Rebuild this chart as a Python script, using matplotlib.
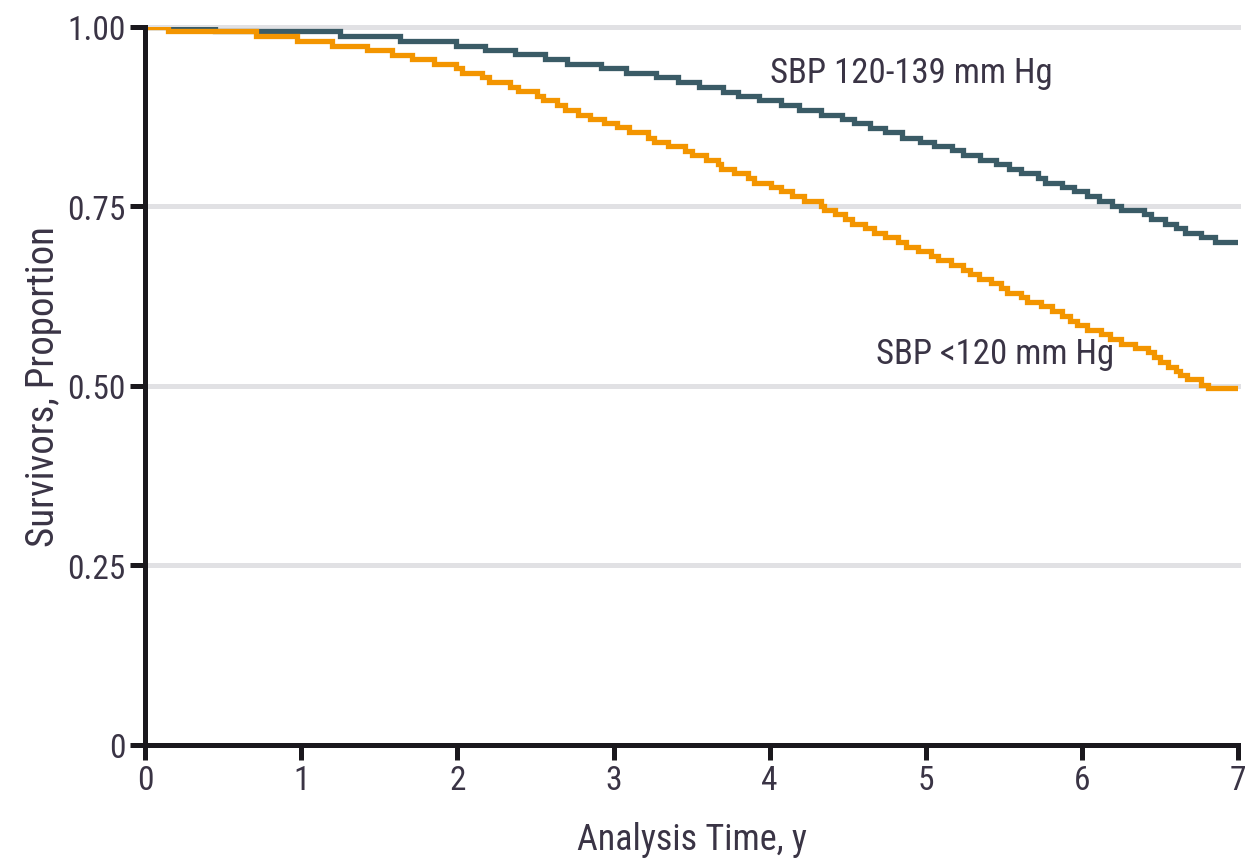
import matplotlib
matplotlib.use("Agg")
import matplotlib.pyplot as plt
from matplotlib import font_manager

# Kaplan-Meier step data (time in years, survival proportion)
t_120_139 = [0, 0.45, 1.25, 1.63, 1.99, 2.18, 2.37, 2.56, 2.70, 2.92, 3.08, 3.27,
             3.41, 3.55, 3.70, 3.80, 3.93, 4.07, 4.19, 4.33, 4.46, 4.54, 4.64,
             4.74, 4.85, 4.96, 5.05, 5.17, 5.24, 5.35, 5.45, 5.53, 5.61, 5.72,
             5.76, 5.87, 5.95, 6.03, 6.11, 6.19, 6.25, 6.40, 6.44, 6.53, 6.60,
             6.66, 6.76, 6.85, 7.0]
s_120_139 = [1.000, 0.994, 0.987, 0.980, 0.974, 0.968, 0.962, 0.955, 0.949, 0.943,
             0.936, 0.930, 0.923, 0.917, 0.910, 0.904, 0.898, 0.891, 0.885, 0.878,
             0.872, 0.866, 0.859, 0.853, 0.846, 0.840, 0.834, 0.828, 0.821, 0.815,
             0.809, 0.802, 0.796, 0.790, 0.783, 0.777, 0.771, 0.764, 0.758, 0.751,
             0.745, 0.739, 0.732, 0.726, 0.720, 0.713, 0.707, 0.700, 0.700]

t_lt120 = [0, 0.15, 0.71, 0.97, 1.20, 1.42, 1.58, 1.71, 1.85, 1.99, 2.03, 2.16,
           2.20, 2.34, 2.39, 2.51, 2.55, 2.64, 2.69, 2.77, 2.85, 2.94, 3.02, 3.10,
           3.22, 3.26, 3.35, 3.46, 3.50, 3.59, 3.67, 3.69, 3.77, 3.86, 3.90, 4.01,
           4.07, 4.14, 4.22, 4.33, 4.35, 4.42, 4.48, 4.53, 4.61, 4.67, 4.74, 4.82,
           4.87, 4.95, 5.03, 5.08, 5.16, 5.24, 5.28, 5.34, 5.42, 5.48, 5.52, 5.61,
           5.65, 5.74, 5.81, 5.87, 5.92, 5.97, 6.03, 6.12, 6.18, 6.25, 6.34, 6.42,
           6.46, 6.50, 6.55, 6.60, 6.63, 6.67, 6.76, 6.81, 7.0]
s_lt120 = [1.000, 0.994, 0.987, 0.980, 0.974, 0.968, 0.961, 0.955, 0.949, 0.943,
           0.936, 0.930, 0.923, 0.917, 0.911, 0.904, 0.898, 0.891, 0.885, 0.878,
           0.872, 0.866, 0.860, 0.853, 0.846, 0.840, 0.834, 0.827, 0.821, 0.815,
           0.809, 0.802, 0.796, 0.790, 0.783, 0.777, 0.771, 0.764, 0.758, 0.751,
           0.745, 0.739, 0.732, 0.726, 0.720, 0.713, 0.707, 0.700, 0.694, 0.688,
           0.681, 0.675, 0.669, 0.662, 0.656, 0.649, 0.643, 0.636, 0.630, 0.624,
           0.617, 0.611, 0.604, 0.598, 0.591, 0.585, 0.578, 0.572, 0.566, 0.559,
           0.553, 0.547, 0.540, 0.534, 0.527, 0.521, 0.515, 0.509, 0.502, 0.497,
           0.497]

x_ticks = [0, 1, 2, 3, 4, 5, 6, 7]
y_ticks = [0, 0.25, 0.50, 0.75, 1.00]
y_tick_labels = ['0', '0.25', '0.50', '0.75', '1.00']

teal = '#3a5b66'
orange = '#f39500'
ink = '#1a181d'
txt = '#3a3445'
grid_c = '#e1e1e4'

# pick a narrow face if one is installed
installed = {f.name for f in font_manager.fontManager.ttflist}
narrow = [n for n in ['Liberation Sans Narrow', 'DejaVu Sans Condensed', 'Roboto Condensed',
                      'Open Sans Condensed', 'Noto Sans Condensed'] if n in installed]
stretch = 'normal'
if not narrow:
    for f in font_manager.fontManager.ttflist:
        if f.name == 'DejaVu Sans' and f.stretch == 'condensed':
            stretch = 'condensed'
            break
plt.rcParams['font.family'] = narrow + ['DejaVu Sans']
plt.rcParams['font.stretch'] = stretch

fig = plt.figure(figsize=(12.45, 8.62), dpi=100)
ax = fig.add_axes([0.1165, 0.1346, 0.878, 0.833])

for y in y_ticks[1:]:
    ax.axhline(y, color=grid_c, lw=3.6, zorder=1, clip_on=False)

ax.plot(t_120_139, s_120_139, drawstyle='steps-post', color=teal, lw=3.8,
        solid_joinstyle='miter', solid_capstyle='butt', zorder=3)
ax.plot(t_lt120, s_lt120, drawstyle='steps-post', color=orange, lw=3.8,
        solid_joinstyle='miter', solid_capstyle='butt', zorder=4)

ax.text(4.0, 0.937, 'SBP 120-139 mm Hg', fontsize=25, color=txt, ha='left', va='center')
ax.text(4.68, 0.545, 'SBP <120 mm Hg', fontsize=25, color=txt, ha='left', va='center')

ax.set_xlim(0, 7)
ax.set_ylim(0, 1)
ax.set_xticks(x_ticks)
ax.set_yticks(y_ticks)
ax.set_yticklabels(y_tick_labels)
ax.tick_params(direction='out', length=11, width=3.6, color=ink, labelsize=24,
               labelcolor=txt, pad=3)
ax.tick_params(axis='x', pad=3)

for side in ['top', 'right']:
    ax.spines[side].set_visible(False)
for side in ['left', 'bottom']:
    ax.spines[side].set_linewidth(3.6)
    ax.spines[side].set_color(ink)
    ax.spines[side].set_zorder(5)

ax.set_xlabel('Analysis Time, y', fontsize=26, color=txt, labelpad=18)
ax.set_ylabel('Survivors, Proportion', fontsize=28, color=txt, labelpad=4)

fig.savefig('out.png', dpi=100)
